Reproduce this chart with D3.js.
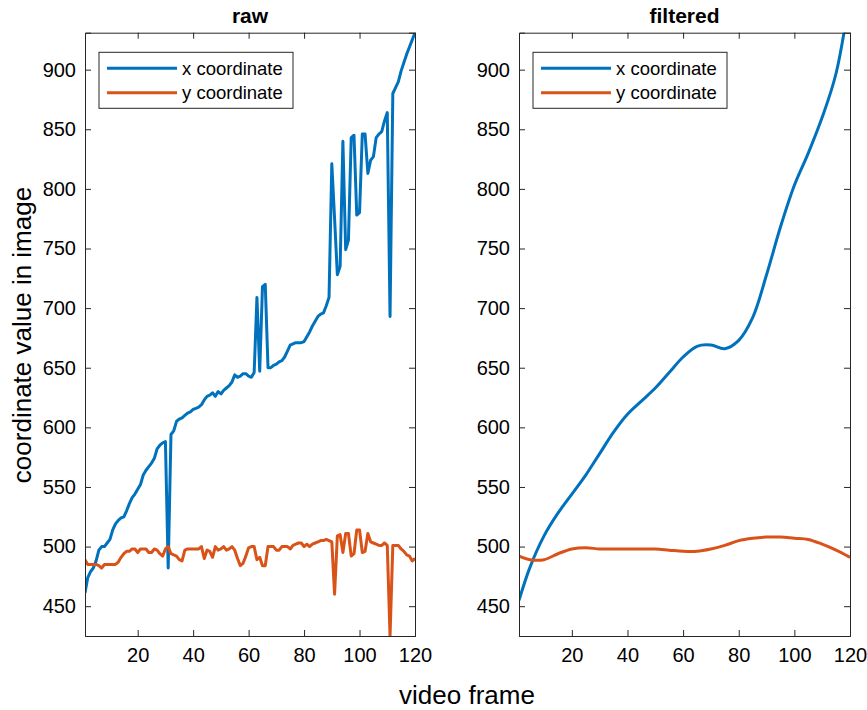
<!DOCTYPE html>
<html><head><meta charset="utf-8">
<script src="https://cdn.jsdelivr.net/npm/d3@7/dist/d3.min.js"></script>
<style>body{margin:0;background:#fff}svg{display:block}text{font-family:"Liberation Sans",Arial,Helvetica,sans-serif}</style>
</head><body><svg id="c" width="867" height="710"></svg>
<script>
const frames = d3.range(1, 121);
const rawX = [461,474,479,482,488,497,500,500,503,506,514,519,522,524,525,530,536,541,544,548,
552,560,564,567,570,574,582,585,587,588,482,594,597,605,607,608,610,612,613,615,
616,617,619,623,626,627,629,626,630,628,631,633,635,638,644,642,643,645,645,643,
642,646,709,647,718,720,650,650,652,653,655,656,659,664,669,670,671,671,671,672,
676,680,685,689,693,695,696,702,709,821,775,728,735,840,749,757,843,845,778,780,
846,846,813,824,827,843,846,848,857,864,693,880,885,890,899,906,913,919,925,931];
const rawY = [489,485,485,485,485,484,482,485,485,485,485,485,487,491,494,496,496,498,498,495,
498,498,498,495,495,498,497,494,492,498,500,494,493,492,489,488,497,498,498,498,
498,498,500,490,497,496,491,500,497,498,500,497,498,500,497,490,484,486,492,499,
500,500,489,491,484,484,500,500,500,497,497,500,500,500,498,501,502,503,503,500,
502,500,502,503,504,505,505,506,505,504,460,509,510,495,511,511,492,494,514,514,
495,496,511,504,503,502,501,501,503,501,425,501,501,501,498,496,493,492,488,490];
// filtered series, read at sample frames
const filtFrames = [1,5,10,15,20,25,30,35,40,45,50,55,60,65,70,75,80,85,90,95,100,105,110,115,120];
const filtX = [455,483,509,528,544,560,578,596,611,622,633,646,659,668,669,666,673,692,728,768,803,830,860,897,963];
const filtY = [492,489,489,494,498,499,498,498,498,498,498,497,496,496,498,501,505,507,508,508,507,506,502,497,491];
const xTicks = [20,40,60,80,100,120];
const yTicks = [450,500,550,600,650,700,750,800,850,900];
const seriesNames = ["x coordinate","y coordinate"];
const colors = ["#0072BD","#D95319"];
const titles = ["raw","filtered"];

const svg = d3.select("#c");
const plotTop = 32.7, plotBottom = 636;
const yDomain = d3.extent(rawX.concat(rawY));
const panels = [
  {x0:85, x1:415, title:titles[0], xs:frames, a:rawX, b:rawY, curve:d3.curveLinear},
  {x0:519, x1:850, title:titles[1], xs:filtFrames, a:filtX, b:filtY, curve:d3.curveCatmullRom.alpha(0.5)}
];
const axisColor = "#262626";
panels.forEach((p,i)=>{
  const x = d3.scaleLinear().domain([1,120]).range([p.x0,p.x1]);
  const y = d3.scaleLinear().domain(yDomain).range([plotBottom,plotTop]);
  const g = svg.append("g");
  const cid = "clip"+i;
  svg.append("clipPath").attr("id",cid).append("rect")
    .attr("x",p.x0).attr("y",plotTop).attr("width",p.x1-p.x0).attr("height",plotBottom-plotTop);
  const line = d3.line().x((d,k)=>x(p.xs[k])).y(d=>y(d)).curve(p.curve);
  [p.a,p.b].forEach((s,k)=>{
    g.append("path").attr("d",line(s)).attr("fill","none").attr("stroke",colors[k])
      .attr("stroke-width",3).attr("stroke-linejoin","round").attr("clip-path",`url(#${cid})`);
  });
  const fs = 20;
  const ax = g.append("g").attr("transform",`translate(0,${plotBottom})`)
    .call(d3.axisBottom(x).tickValues(xTicks).tickSize(-6).tickPadding(12).tickFormat(d3.format("d")));
  const axT = g.append("g").attr("transform",`translate(0,${plotTop})`)
    .call(d3.axisTop(x).tickValues(xTicks).tickSize(-6).tickFormat(""));
  const ay = g.append("g").attr("transform",`translate(${p.x0},0)`)
    .call(d3.axisLeft(y).tickValues(yTicks).tickSize(-6).tickPadding(9).tickFormat(d3.format("d")));
  const ayR = g.append("g").attr("transform",`translate(${p.x1},0)`)
    .call(d3.axisRight(y).tickValues(yTicks).tickSize(-6).tickFormat(""));
  [ax,axT,ay,ayR].forEach(a=>{
    a.selectAll("path,line").attr("stroke",axisColor).attr("stroke-width",1);
    a.selectAll("text").attr("fill","#000").style("font-size",fs+"px").attr("font-family",null);
  });
  ax.selectAll("text").attr("dy","0.71em");
  svg.append("text").attr("x",(p.x0+p.x1)/2).attr("y",23).attr("text-anchor","middle")
    .style("font-size","21px").style("font-weight","bold").text(p.title);
  const lx = p.x0+14, ly = 52.3, lw = 194, lh = 56;
  const lg = svg.append("g");
  lg.append("rect").attr("x",lx).attr("y",ly).attr("width",lw).attr("height",lh)
    .attr("fill","#fff").attr("stroke",axisColor).attr("stroke-width",1);
  seriesNames.forEach((n,k)=>{
    const yy = ly+16+k*24.4;
    lg.append("line").attr("x1",lx+8).attr("x2",lx+78).attr("y1",yy).attr("y2",yy)
      .attr("stroke",colors[k]).attr("stroke-width",3);
    lg.append("text").attr("x",lx+83).attr("y",yy).attr("dy","0.35em")
      .style("font-size","18.5px").text(n);
  });
});
svg.append("text").attr("x",467).attr("y",704).attr("text-anchor","middle")
  .style("font-size","26px").text("video frame");
svg.append("text").attr("transform","translate(31,335) rotate(-90)").attr("text-anchor","middle")
  .style("font-size","26px").text("coordinate value in image");
</script></body></html>
